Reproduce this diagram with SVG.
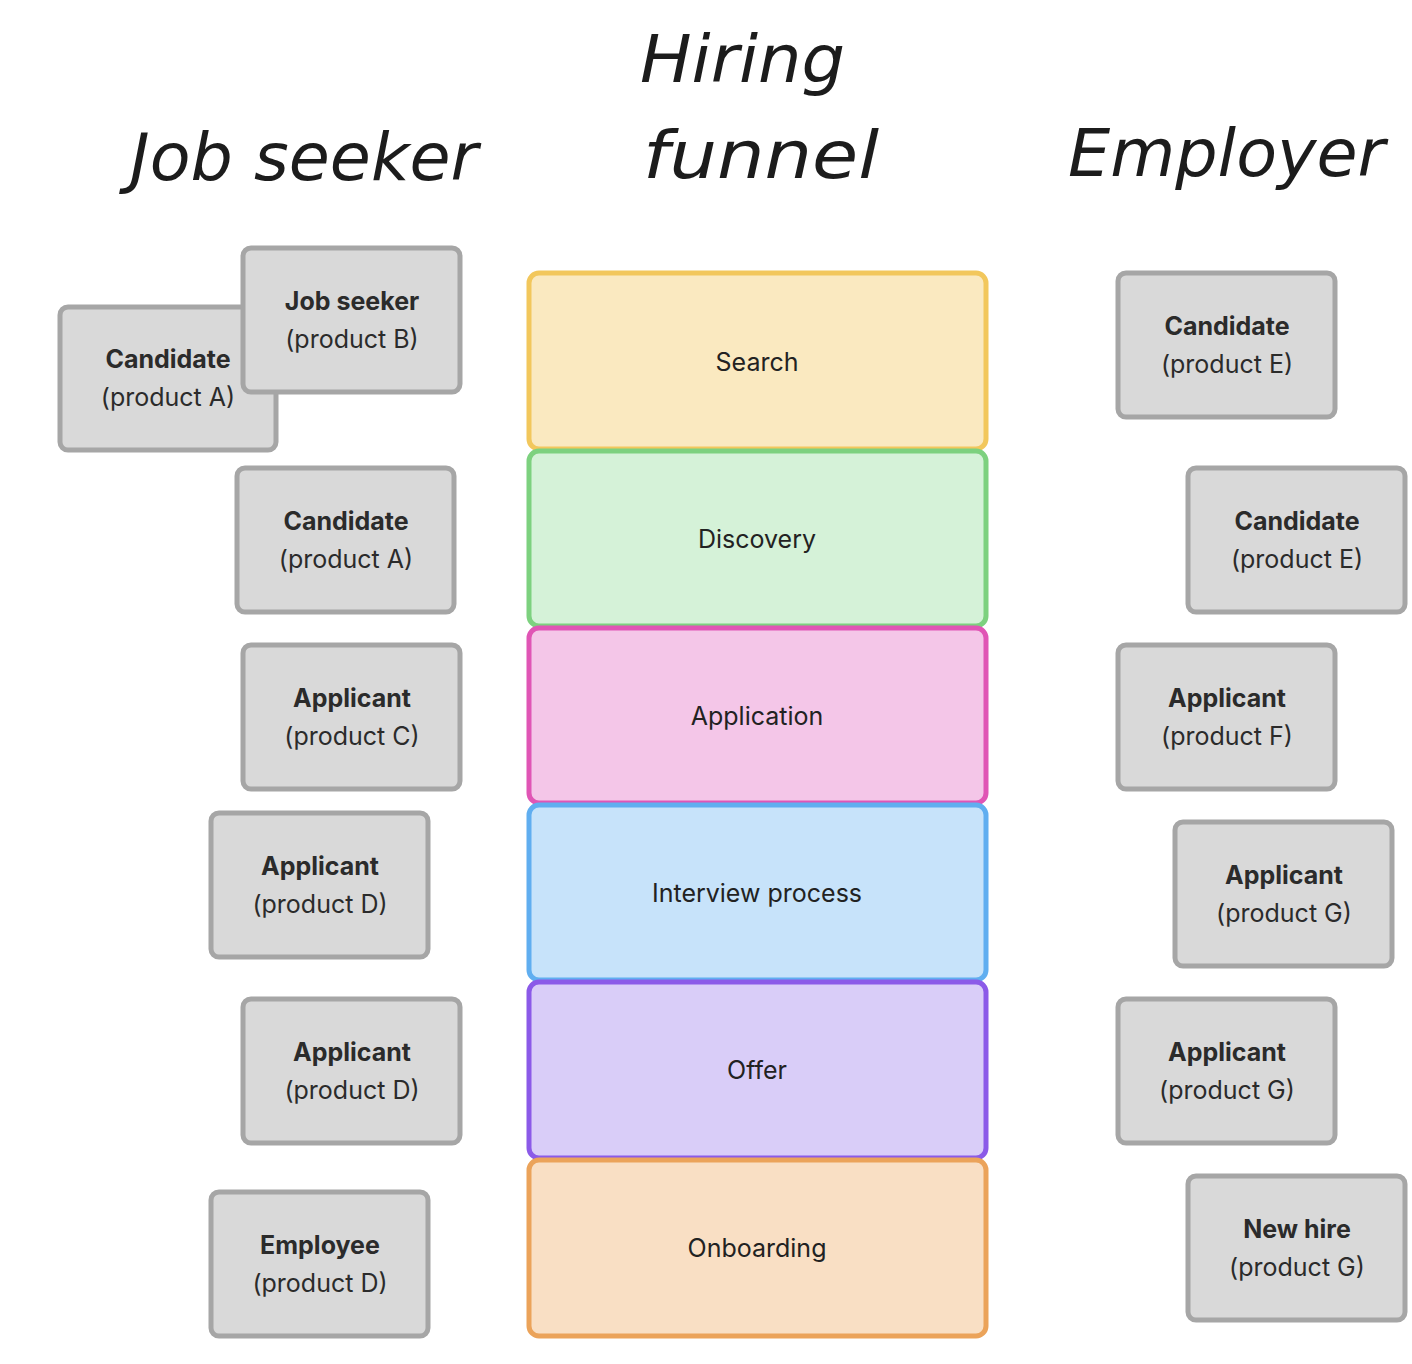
<svg xmlns="http://www.w3.org/2000/svg" width="1412" height="1364" viewBox="0 0 1412 1364">
<style>
.title{font-family:"DejaVu Sans","Liberation Sans",sans-serif;font-style:italic;font-weight:300;font-size:66px;fill:#1c1c1c}
.card{fill:#d9d9d9;stroke:#a6a6a6;stroke-width:5}
.b{font-family:Inter,"Liberation Sans",sans-serif;font-weight:700;font-size:25px;fill:#2b2b2b;text-anchor:middle}
.r{font-family:Inter,"Liberation Sans",sans-serif;font-weight:400;font-size:25px;fill:#2b2b2b;text-anchor:middle}
.stage{font-family:Inter,"Liberation Sans",sans-serif;font-size:25px;fill:#222;text-anchor:middle}
.band{stroke-width:5}
</style>
<rect width="1412" height="1364" fill="#ffffff"/>
<g id="titles">
<text class="title" x="130" y="180" textLength="348" lengthAdjust="spacingAndGlyphs">Job seeker</text>
<text class="title" x="640" y="82" textLength="205" lengthAdjust="spacingAndGlyphs">Hiring</text>
<text class="title" x="643" y="178" textLength="236" lengthAdjust="spacingAndGlyphs">funnel</text>
<text class="title" x="1068" y="176" textLength="317" lengthAdjust="spacingAndGlyphs">Employer</text>
</g>
<g id="funnel">
<g id="stage-search"><rect class="band" x="529" y="273" width="457" height="176" rx="10" fill="#fae9c0" stroke="#f2c75c"/><text class="stage" x="757" y="371">Search</text></g>
<g id="stage-discovery"><rect class="band" x="529" y="451" width="457" height="175" rx="10" fill="#d5f2d8" stroke="#7dd17f"/><text class="stage" x="757" y="548">Discovery</text></g>
<g id="stage-application"><rect class="band" x="529" y="628" width="457" height="175" rx="10" fill="#f4c6e8" stroke="#e055b5"/><text class="stage" x="757" y="725">Application</text></g>
<g id="stage-interview"><rect class="band" x="529" y="805" width="457" height="175" rx="10" fill="#c7e3fa" stroke="#60aef0"/><text class="stage" x="757" y="902">Interview process</text></g>
<g id="stage-offer"><rect class="band" x="529" y="982" width="457" height="176" rx="10" fill="#d9cdf8" stroke="#8b5ae8"/><text class="stage" x="757" y="1079">Offer</text></g>
<g id="stage-onboarding"><rect class="band" x="529" y="1160" width="457" height="176" rx="10" fill="#f9dfc4" stroke="#eba35a"/><text class="stage" x="757" y="1257">Onboarding</text></g>
</g>
<g id="left">
<g id="l1"><rect class="card" x="60" y="307" width="216" height="143" rx="8"/><text class="b" x="168" y="368">Candidate</text><text class="r" x="168" y="406">(product A)</text></g>
<g id="l2"><rect class="card" x="243" y="248" width="217" height="144" rx="8"/><text class="b" x="352" y="310">Job seeker</text><text class="r" x="352" y="348">(product B)</text></g>
<g id="l3"><rect class="card" x="237" y="468" width="217" height="144" rx="8"/><text class="b" x="346" y="530">Candidate</text><text class="r" x="346" y="568">(product A)</text></g>
<g id="l4"><rect class="card" x="243" y="645" width="217" height="144" rx="8"/><text class="b" x="352" y="707">Applicant</text><text class="r" x="352" y="745">(product C)</text></g>
<g id="l5"><rect class="card" x="211" y="813" width="217" height="144" rx="8"/><text class="b" x="320" y="875">Applicant</text><text class="r" x="320" y="913">(product D)</text></g>
<g id="l6"><rect class="card" x="243" y="999" width="217" height="144" rx="8"/><text class="b" x="352" y="1061">Applicant</text><text class="r" x="352" y="1099">(product D)</text></g>
<g id="l7"><rect class="card" x="211" y="1192" width="217" height="144" rx="8"/><text class="b" x="320" y="1254">Employee</text><text class="r" x="320" y="1292">(product D)</text></g>
</g>
<g id="right">
<g id="r1"><rect class="card" x="1118" y="273" width="217" height="144" rx="8"/><text class="b" x="1227" y="335">Candidate</text><text class="r" x="1227" y="373">(product E)</text></g>
<g id="r2"><rect class="card" x="1188" y="468" width="217" height="144" rx="8"/><text class="b" x="1297" y="530">Candidate</text><text class="r" x="1297" y="568">(product E)</text></g>
<g id="r3"><rect class="card" x="1118" y="645" width="217" height="144" rx="8"/><text class="b" x="1227" y="707">Applicant</text><text class="r" x="1227" y="745">(product F)</text></g>
<g id="r4"><rect class="card" x="1175" y="822" width="217" height="144" rx="8"/><text class="b" x="1284" y="884">Applicant</text><text class="r" x="1284" y="922">(product G)</text></g>
<g id="r5"><rect class="card" x="1118" y="999" width="217" height="144" rx="8"/><text class="b" x="1227" y="1061">Applicant</text><text class="r" x="1227" y="1099">(product G)</text></g>
<g id="r6"><rect class="card" x="1188" y="1176" width="217" height="144" rx="8"/><text class="b" x="1297" y="1238">New hire</text><text class="r" x="1297" y="1276">(product G)</text></g>
</g>
<g id="connectors"/>
</svg>
